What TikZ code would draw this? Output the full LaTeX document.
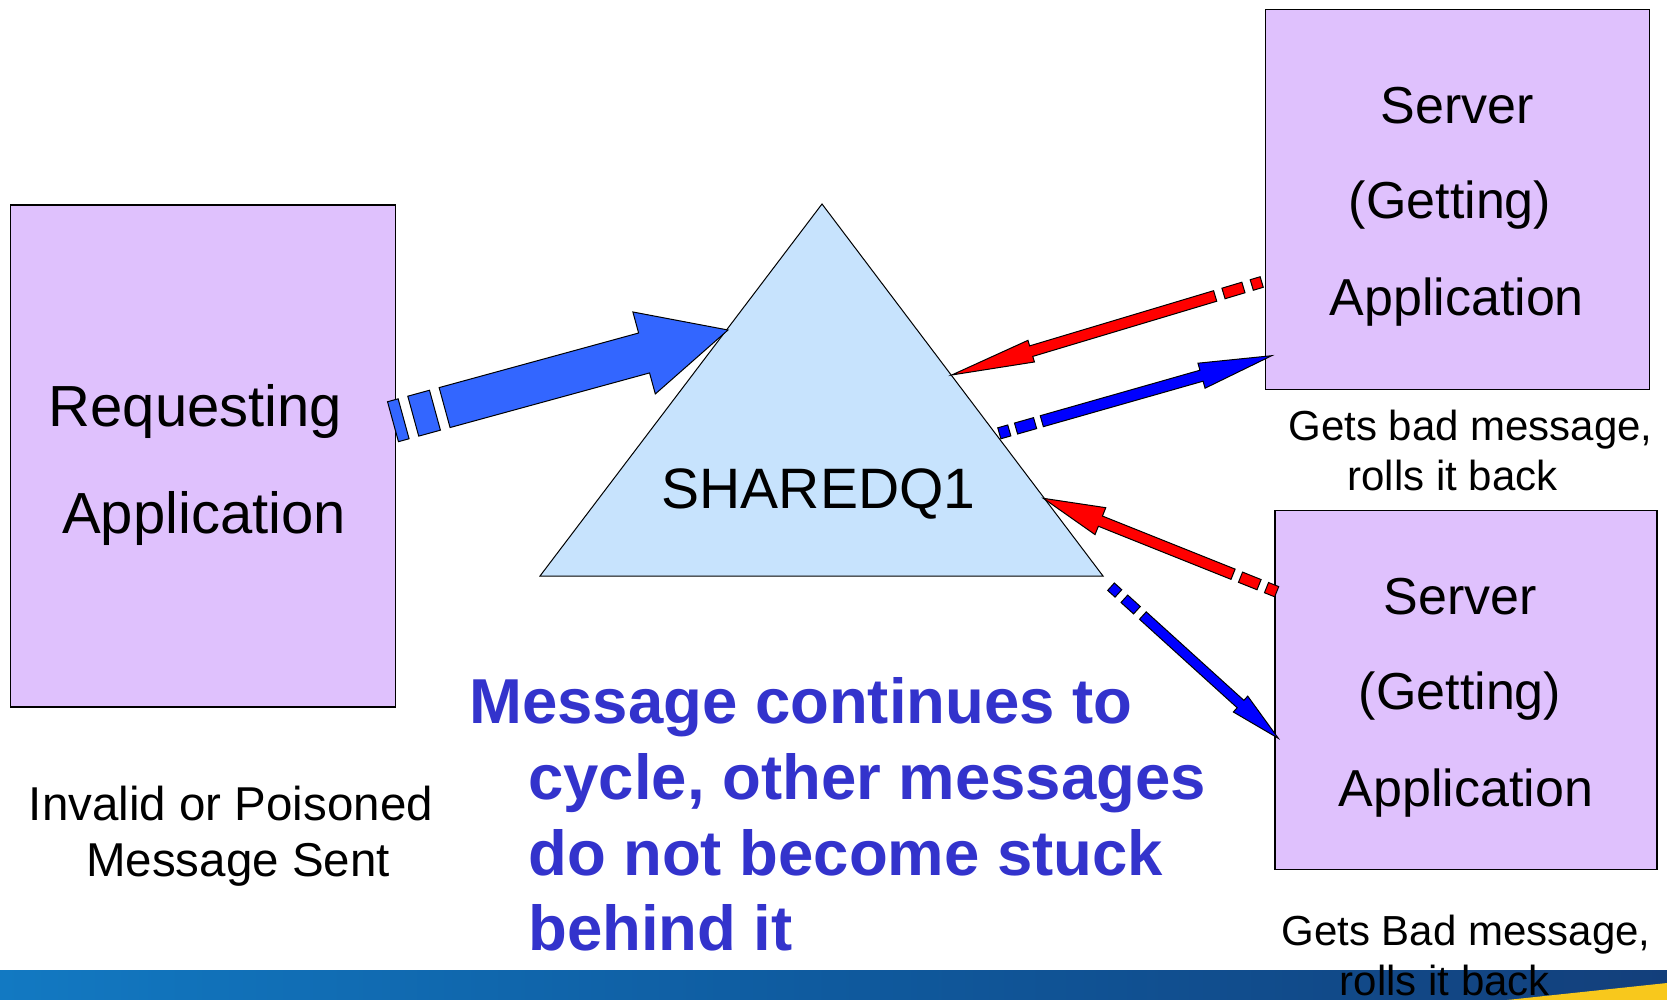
\documentclass[tikz,border=0pt]{standalone}
\usepackage{fontspec}
\setmainfont{Liberation Sans}
\usetikzlibrary{calc}

\definecolor{boxfill}{HTML}{DFC1FD}
\definecolor{qfill}{HTML}{C7E3FD}
\definecolor{bigblue}{HTML}{3366FF}
\definecolor{msgblue}{HTML}{3333CC}
\definecolor{barlight}{HTML}{1279C2}
\definecolor{barmid}{HTML}{0F5A9E}
\definecolor{bardark}{HTML}{133F7B}
\definecolor{baryellow}{HTML}{F8C81C}

% Block arrow with two dashes at its tail.
% #1 fill, #2 tail, #3 tip, #4 half body width, #5 half head width,
% #6 head length, #7 first dash, #8 gap, #9 second dash
\newcommand\blockarrow[9]{%
  \pgfmathsetmacro\baS{#7+#8}%
  \pgfmathsetmacro\baT{#7+#8+#9}%
  \pgfmathsetmacro\baB{#7+#8+#9+#8}%
  \filldraw[arrowline, fill=#1]
    ($(#2)!#4pt!90:(#3)$) -- ($(#2)!#7pt!(#3)!#4pt!90:(#3)$) --
    ($(#2)!#7pt!(#3)!#4pt!-90:(#3)$) -- ($(#2)!#4pt!-90:(#3)$) -- cycle
    ($(#2)!\baS pt!(#3)!#4pt!90:(#3)$) -- ($(#2)!\baT pt!(#3)!#4pt!90:(#3)$) --
    ($(#2)!\baT pt!(#3)!#4pt!-90:(#3)$) -- ($(#2)!\baS pt!(#3)!#4pt!-90:(#3)$) -- cycle
    ($(#2)!\baB pt!(#3)!#4pt!90:(#3)$) --
    ($(#3)!#6pt!(#2)!#4pt!-90:(#2)$) --
    ($(#3)!#6pt!(#2)!#5pt!-90:(#2)$) --
    (#3) --
    ($(#3)!#6pt!(#2)!#5pt!90:(#2)$) --
    ($(#3)!#6pt!(#2)!#4pt!90:(#2)$) --
    ($(#2)!\baB pt!(#3)!#4pt!-90:(#3)$) -- cycle;%
}

\begin{document}
\begin{tikzpicture}[x=1pt,y=-1pt,
  box/.style={draw=black, line width=1.3pt, fill=boxfill, inner sep=0pt},
  arrowline/.style={draw=black, line width=1pt, line join=miter},
  big/.style={anchor=base, inner sep=0pt, font=\fontsize{58}{60}\selectfont},
  srv/.style={anchor=base, inner sep=0pt, font=\fontsize{52}{54}\selectfont},
  note/.style={anchor=base, inner sep=0pt, font=\fontsize{42}{44}\selectfont},
  sent/.style={anchor=base, inner sep=0pt, font=\fontsize{47.5}{50}\selectfont},
  claim/.style={anchor=base west, inner sep=0pt, text=msgblue,
    font=\fontsize{63.5}{66}\selectfont\bfseries}]

\useasboundingbox (0,0) rectangle (1667,1000);

% footer band
\shade[left color=barlight, right color=bardark, middle color=barmid]
  (0,970) rectangle (1667,1000);
\fill[baryellow] (1507,1000) -- (1667,983) -- (1667,1000) -- cycle;

% applications
\node[box, minimum width=385pt, minimum height=502pt] (req) at (203.2,456) {};
\node[box, minimum width=384pt, minimum height=380pt] (srvA) at (1457.2,199.3) {};
\node[box, minimum width=382pt, minimum height=359pt] (srvB) at (1466,690.1) {};

% shared queue
\coordinate (qtop) at (822,204);
\coordinate (qleft) at (540,576);
\coordinate (qright) at (1103,576);
\draw[line width=1pt, fill=qfill] (qtop) -- (qleft) -- (qright) -- cycle;
\node[big, font=\fontsize{57}{59}\selectfont] (qname) at (818.5,508) {SHAREDQ1};

% arrow end points
\coordinate (reqOut) at (393,421.7);
\coordinate (qIn) at (728,330);
\coordinate (srvAOut) at (1261.7,282);
\coordinate (qBackA) at (951.7,375);
\coordinate (qOutA) at (999.3,433.3);
\coordinate (srvAIn) at (1271.7,355.7);
\coordinate (srvBOut) at (1276.7,591.7);
\coordinate (qBackB) at (1043.3,498.3);
\coordinate (qOutB) at (1111,586.7);
\coordinate (srvBIn) at (1278.3,738.3);

\blockarrow{bigblue}{reqOut}{qIn}{20.7}{42.5}{87}{11}{10}{22.5}
\blockarrow{red}{srvAOut}{qBackA}{5.5}{11.3}{83}{10.4}{8.7}{20.8}
\blockarrow{blue}{qOutA}{srvAIn}{5.7}{13}{73}{10.4}{7}{19.8}
\blockarrow{red}{srvBOut}{qBackB}{5.5}{14.5}{61.5}{11}{8}{20}
\blockarrow{blue}{qOutB}{srvBIn}{5}{10.7}{51}{10}{8}{17}

% labels inside the boxes
\node[big] (reqL1) at (195.5,426.7) {Requesting};
\node[big] (reqL2) at (204,533) {Application};
\node[srv] (aL1) at (1457.5,123.3) {Server};
\node[srv] (aL2) at (1450,218.3) {(Getting)};
\node[srv] (aL3) at (1456.7,315) {Application};
\node[srv] (bL1) at (1460,614.5) {Server};
\node[srv] (bL2) at (1460,709.5) {(Getting)};
\node[srv] (bL3) at (1466,806) {Application};

% captions
\node[note] (aN1) at (1470.5,440.7) {Gets bad message,};
\node[note] (aN2) at (1452.5,490) {rolls it back};
\node[note] (bN1) at (1466,945) {Gets Bad message,};
\node[note] (bN2) at (1445,995) {rolls it back};
\node[sent] (sN1) at (231,820) {Invalid or Poisoned};
\node[sent] (sN2) at (238,876) {Message Sent};

\node[claim] (c1) at (469,723) {Message continues to};
\node[claim] (c2) at (528,799) {cycle, other messages};
\node[claim] (c3) at (528,875) {do not become stuck};
\node[claim] (c4) at (528,950) {behind it};
\end{tikzpicture}
\end{document}
